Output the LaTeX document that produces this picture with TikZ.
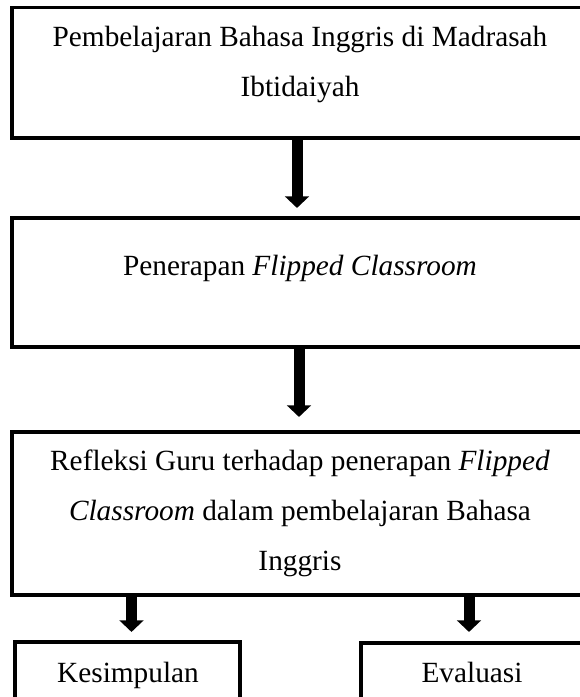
\documentclass[tikz,border=0pt]{standalone}
\usepackage{fontspec}
\setmainfont{Liberation Serif}
\usetikzlibrary{arrows.meta}

\begin{document}
\begin{tikzpicture}[
  x=1pt, y=1pt,
  box/.style={rectangle, draw, line width=3.3pt, inner sep=0pt},
  txt/.style={anchor=base, align=flush center, text width=#1, inner sep=0pt, font=\fontsize{29.3}{50}\selectfont},
  fat/.style={line width=11pt, -{Triangle[width=23.5pt, length=11.5pt]}}
]
  \useasboundingbox (0,0) rectangle (580,-697);
  \clip (0,0) rectangle (580,-697);

  \node[box, minimum width=576pt, minimum height=130.7pt] (pbi) at (300,-72.65) {};
  \node[box, minimum width=576pt, minimum height=129pt]   (pfc) at (300,-282.5) {};
  \node[box, minimum width=576pt, minimum height=163pt]   (rgf) at (300,-513.5) {};
  \node[box, minimum width=225pt, minimum height=80pt]    (ksp) at (127.5,-682) {};
  \node[box, minimum width=222pt, minimum height=80pt]    (evl) at (472,-683) {};

  \node[txt=560pt] (pbi-t) at (300,-46.7) {Pembelajaran Bahasa Inggris di Madrasah\\Ibtidaiyah};
  \node[txt=560pt] (pfc-t) at (300,-275)  {Penerapan \textit{Flipped Classroom}};
  \node[txt=560pt] (rgf-t) at (300,-470)  {Refleksi Guru terhadap penerapan \textit{Flipped}\\\textit{Classroom} dalam pembelajaran Bahasa\\Inggris};
  \node[txt=215pt] (ksp-t) at (128,-682)  {Kesimpulan};
  \node[txt=215pt] (evl-t) at (472,-682)  {Evaluasi};

  \draw[fat, shorten >=8.4pt]  ([xshift=-3pt]pbi.south) -- ([xshift=-3pt]pfc.north);
  \draw[fat, shorten >=13.4pt] ([xshift=-1pt]pfc.south) -- ([xshift=-1pt]rgf.north);
  \draw[fat, shorten >=8.4pt]  ([xshift=4pt]rgf.south -| ksp) -- ([xshift=4pt]ksp.north);
  \draw[fat, shorten >=9.4pt]  ([xshift=-3pt]rgf.south -| evl) -- ([xshift=-3pt]evl.north);
\end{tikzpicture}
\end{document}
